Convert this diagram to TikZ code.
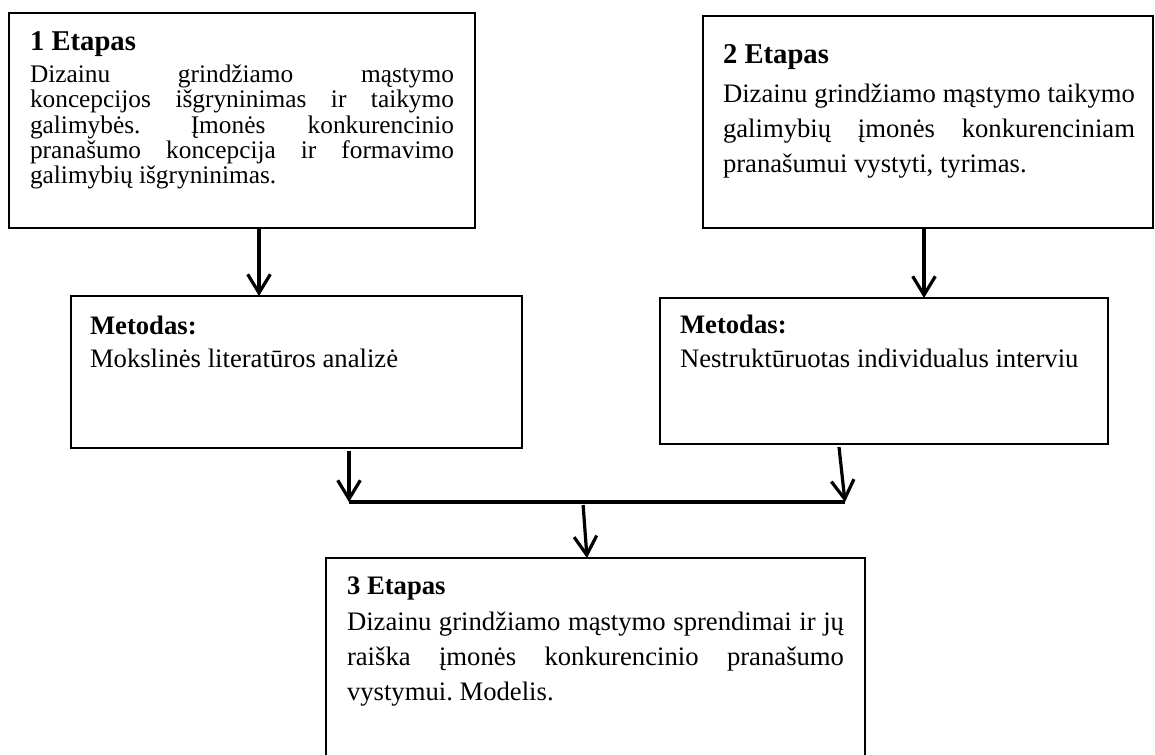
\documentclass[tikz,border=0pt]{standalone}
\usepackage{fontspec}
\setmainfont{Liberation Serif}
\usetikzlibrary{arrows.meta,calc}
\frenchspacing
\begin{document}
\begin{tikzpicture}[x=0.75pt,y=-0.75pt,
 box/.style={draw, line width=1.1pt, rectangle, inner sep=0pt, outer sep=0pt, anchor=north west},
 ln/.style={anchor=base west, inner sep=0pt, outer sep=0pt},
 body/.style={font=\fontsize{20}{24}\selectfont},
 bodyA/.style={font=\fontsize{19}{23}\selectfont},
 head/.style={font=\fontsize{21.5}{26}\selectfont\bfseries},
 mhead/.style={font=\fontsize{20}{24}\selectfont\bfseries},
 arr/.style={line width=2.4pt, line cap=butt, -{Straight Barb[length=14pt,width=17pt]}},
 bar/.style={line width=2.6pt}]
\useasboundingbox (0,0) rectangle (1155,754);
\clip (0,0) rectangle (1155,754);

% boxes
\node[box, minimum width=349.5pt, minimum height=161.25pt] (b1) at (9,13) {};
\node[box, minimum width=337.5pt, minimum height=159pt] (b2) at (703,16) {};
\node[box, minimum width=338.25pt, minimum height=114pt] (m1) at (71,296) {};
\node[box, minimum width=336pt, minimum height=109.5pt] (m2) at (660,298) {};
\node[box, minimum width=404.25pt, minimum height=187.5pt] (b3) at (326,558) {};

% box 1 text
\node[ln, head] (h1) at (30,50) {1 Etapas};
\node[ln, bodyA] (t11) at (30,82) {\makebox[318pt][s]{Dizainu grindžiamo mąstymo}};
\node[ln, bodyA] (t12) at (30,107.5) {\makebox[318pt][s]{koncepcijos išgryninimas ir taikymo}};
\node[ln, bodyA] (t13) at (30,133) {\makebox[318pt][s]{galimybės.\hspace{6pt} Įmonės konkurencinio}};
\node[ln, bodyA] (t14) at (30,158) {\makebox[318pt][s]{pranašumo koncepcija ir formavimo}};
\node[ln, bodyA] (t15) at (30,183) {galimybių išgryninimas.};

% box 2 text
\node[ln, head] (h2) at (723,63) {2 Etapas};
\node[ln, body] (t21) at (723,102) {\makebox[309pt][s]{Dizainu grindžiamo mąstymo taikymo}};
\node[ln, body] (t22) at (723,137) {\makebox[309pt][s]{galimybių įmonės konkurenciniam}};
\node[ln, body] (t23) at (723,172) {pranašumui vystyti, tyrimas.};

% method boxes text
\node[ln, mhead] (mh1) at (90,334) {Metodas:};
\node[ln, body] (mt1) at (90,367) {Mokslinės literatūros analizė};
\node[ln, mhead] (mh2) at (680,333) {Metodas:};
\node[ln, body] (mt2) at (680,367) {Nestruktūruotas individualus interviu};

% box 3 text
\node[ln, mhead] (h3) at (347,594) {3 Etapas};
\node[ln, body] (t31) at (347,630) {\makebox[372.75pt][s]{Dizainu grindžiamo mąstymo sprendimai ir jų}};
\node[ln, body] (t32) at (347,665) {\makebox[372.75pt][s]{raiška įmonės konkurencinio pranašumo}};
\node[ln, body] (t33) at (347,700) {vystymui. Modelis.};

% connectors
\coordinate (jl) at (349,502);
\coordinate (jr) at (845,502);
\draw[arr] ($(b1.south west)+(250,0)$) -- ($(m1.north west)+(188,0)$);
\draw[arr] ($(b2.south west)+(221,0)$) -- ($(m2.north west)+(264,0)$);
\draw[arr] ($(m1.south west)+(278,3)$) -- (jl);
\draw[arr] ($(m2.south west)+(179,3)$) -- (jr);
\draw[bar] (jl) -- (jr);
\draw[arr] ($(jl)!0.472!(jr)+(0,3)$) -- ($(b3.north west)+(261,0)$);
\end{tikzpicture}
\end{document}
